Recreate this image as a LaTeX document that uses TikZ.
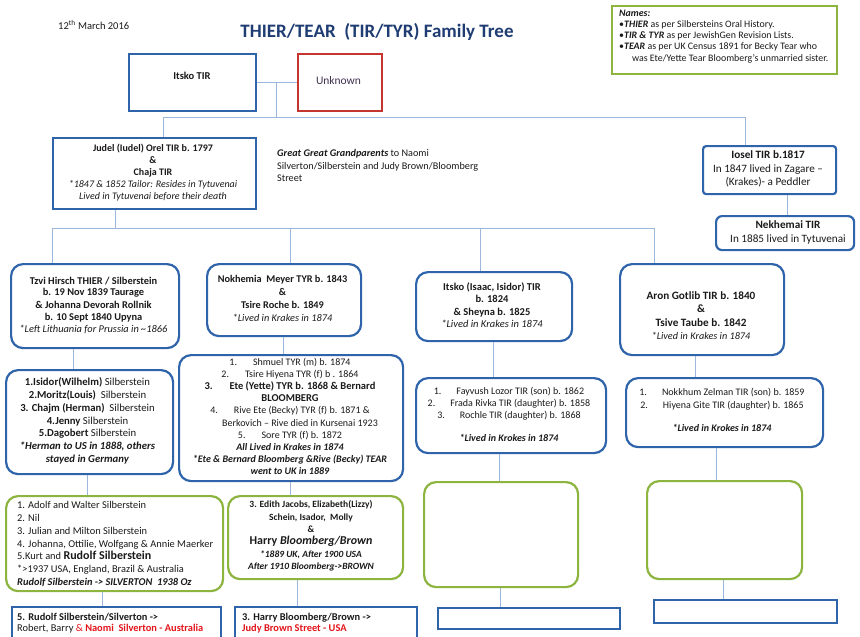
\documentclass[tikz,border=0pt]{standalone}
\usepackage{fontspec}
\setmainfont{Carlito}
\usetikzlibrary{calc}
\definecolor{bbox}{HTML}{2F64AB}
\definecolor{connc}{HTML}{9BB8DC}
\definecolor{gbox}{HTML}{8CB43F}
\definecolor{rbox}{HTML}{C4362F}
\definecolor{titlec}{HTML}{1F3D73}
\definecolor{redtxt}{HTML}{E3141B}
\definecolor{txtc}{HTML}{1A1A1A}
\definecolor{unkc}{HTML}{3F3151}
\newcommand\fs[2]{\fontsize{#1}{#2}\selectfont}
\newcommand\bi[1]{\textbf{\textit{#1}}}
\begin{document}
\begin{tikzpicture}[x=1pt,y=-1pt,
  sqbox/.style={draw=bbox, line width=2.2pt, anchor=north west, inner sep=0pt},
  rbx/.style={sqbox, rounded corners=12pt},
  gbx/.style={draw=gbox, line width=2.2pt, rounded corners=12pt, anchor=north west, inner sep=0pt},
  ln/.style={draw=connc, line width=0.9pt},
  tx/.style={inner sep=0pt, align=center, anchor=north, text=txtc},
  tl/.style={inner sep=0pt, align=left, anchor=north west, text=txtc}]
\useasboundingbox[fill=white] (0,0) rectangle (860,637);
% ---------- boxes ----------
\node[sqbox, minimum width=127pt, minimum height=57pt] (itsko) at (128,53) {};
\node[sqbox, draw=rbox, minimum width=84pt, minimum height=57pt] (unknown) at (297,53) {};
\node[sqbox, draw=gbox, minimum width=225pt, minimum height=68pt] (notes) at (611,5) {};
\node[sqbox, minimum width=203pt, minimum height=71pt] (judel) at (52,137) {};
\node[sqbox, rounded corners=3pt, minimum width=133pt, minimum height=48pt] (iosel) at (702,145) {};
\node[sqbox, rounded corners=6pt, minimum width=138pt, minimum height=34pt] (nekh) at (715,215) {};
\node[rbx, minimum width=168pt, minimum height=84pt] (tzvi) at (10,263) {};
\node[rbx, minimum width=154pt, minimum height=72pt] (nokh) at (206,263) {};
\node[rbx, minimum width=156pt, minimum height=69pt] (isaac) at (415,271) {};
\node[rbx, minimum width=164pt, minimum height=91pt] (aron) at (619,263) {};
\node[rbx, minimum width=167pt, minimum height=104pt] (isidor) at (5,369) {};
\node[rbx, minimum width=224pt, minimum height=126pt] (shmuel) at (178,354) {};
\node[rbx, minimum width=190pt, minimum height=75pt] (fayv) at (415,377) {};
\node[rbx, minimum width=197pt, minimum height=69pt] (nokk) at (625,377) {};
\node[gbx, minimum width=217pt, minimum height=95pt] (adolf) at (5,495) {};
\node[gbx, minimum width=175pt, minimum height=83pt] (edith) at (227,495) {};
\node[gbx, minimum width=154pt, minimum height=105pt] (gthree) at (423,481) {};
\node[gbx, minimum width=155pt, minimum height=98pt] (gfour) at (646,480) {};
\node[sqbox, minimum width=209pt, minimum height=40pt] (rudolf) at (11,606) {};
\node[sqbox, minimum width=182pt, minimum height=40pt] (harry) at (234,606) {};
\node[sqbox, minimum width=182pt, minimum height=21pt] (bthree) at (437,607) {};
\node[sqbox, minimum width=183pt, minimum height=23pt] (bfour) at (653,599) {};
% ---------- connectors ----------
\coordinate (j1) at (276,117);
\coordinate (b1a) at (163,117);
\coordinate (b1b) at (745,117);
\draw[ln] (itsko.east) -- (unknown.west);
\draw[ln] (j1 |- itsko.east) -- (j1);
\draw[ln] (b1a |- judel.north) -- (b1a) -- (b1b) -- (b1b |- iosel.north);
\coordinate (nk) at (787,0);
\draw[ln] (nk |- iosel.south) -- (nk |- nekh.north);
\coordinate (b2j) at (115,228);
\coordinate (b2a) at (52,228);
\coordinate (b2b) at (290,228);
\coordinate (b2c) at (480,228);
\coordinate (b2d) at (654,228);
\draw[ln] (b2j |- judel.south) -- (b2j);
\draw[ln] (b2a |- tzvi.north) -- (b2a) -- (b2d) -- (b2d |- aron.north);
\draw[ln] (b2b) -- (b2b |- nokh.north);
\draw[ln] (b2c) -- (b2c |- isaac.north);
\coordinate (c1) at (73,0);
\coordinate (c2) at (283,0);
\coordinate (c3) at (493,0);
\coordinate (c4) at (695,0);
\draw[ln] (c1 |- tzvi.south) -- (c1 |- isidor.north);
\draw[ln] (c2 |- nokh.south) -- (c2 |- shmuel.north);
\draw[ln] (c3 |- isaac.south) -- (c3 |- fayv.north);
\draw[ln] (c4 |- aron.south) -- (c4 |- nokk.north);
\coordinate (d1) at (87,0);
\coordinate (d2) at (290,0);
\coordinate (d3) at (499,0);
\coordinate (d4) at (716,0);
\draw[ln] (d1 |- isidor.south) -- (d1 |- adolf.north);
\draw[ln] (d2 |- shmuel.south) -- (d2 |- edith.north);
\draw[ln] (d3 |- fayv.south) -- (d3 |- gthree.north);
\draw[ln] (d4 |- nokk.south) -- (d4 |- gfour.north);
\coordinate (e1) at (102,0);
\coordinate (e2) at (297,0);
\coordinate (e3) at (500,0);
\coordinate (e4) at (723,0);
\draw[ln] (e1 |- adolf.south) -- (e1 |- rudolf.north);
\draw[ln] (e2 |- edith.south) -- (e2 |- harry.north);
\draw[ln] (e3 |- gthree.south) -- (e3 |- bthree.north);
\draw[ln] (e4 |- gfour.south) -- (e4 |- bfour.north);
% ---------- texts ----------
\node[tl, anchor=west, font=\fs{10.5}{12}] (date) at (58,25) {12\textsuperscript{th} March 2016};
\node[inner sep=0pt, text=titlec, font=\fs{19}{21}\bfseries] (title) at (377,32) {THIER/TEAR\ \ (TIR/TYR) Family Tree};
\node[tl, font=\fs{9.9}{11.25}] (notesT) at (619,9.5) {\bi{Names:}\\
  •\bi{THIER} as per Silbersteins Oral History.\\
  •\bi{TIR \& TYR} as per JewishGen Revision Lists.\\
  •\bi{TEAR} as per UK Census 1891 for Becky Tear who\\
  \hspace*{1.3em}was Ete/Yette Tear Bloomberg's unmarried sister.};
\node[tx, font=\fs{10.5}{12}\bfseries] (itskoT) at (192,72) {Itsko TIR};
\node[tx, text=unkc, font=\fs{11.5}{13}] (unknownT) at (338.5,76.5) {Unknown};
\node[tx, font=\fs{10}{12}] (judelT) at (153,143.5) {\textbf{Judel (Iudel) Orel TIR b. 1797}\\ \textbf{\&}\\ \textbf{Chaja TIR}\\
  \textit{*1847 \& 1852 Tailor: Resides in Tytuvenai}\\ \textit{Lived in Tytuvenai before their death}};
\node[tl, font=\fs{10.2}{12.5}] (ggT) at (277,149.5) {\bi{Great Great Grandparents} to Naomi\\ Silverton/Silberstein and Judy Brown/Bloomberg\\ Street};
\node[tx, font=\fs{11.2}{13.5}] (ioselT) at (768,150.5) {\textbf{Iosel TIR b.1817}\\ In 1847 lived in Zagare –\\ (Krakes)- a Peddler};
\node[tx, font=\fs{11.2}{14}] (nekhT) at (788,220.5) {\textbf{Nekhemai TIR}\\ In 1885 lived in Tytuvenai};
\node[tx, font=\fs{10.4}{12}] (tzviT) at (93.5,276.5) {\textbf{Tzvi Hirsch THIER / Silberstein}\\ \textbf{b. 19 Nov 1839 Taurage}\\
  \textbf{\& Johanna Devorah Rollnik}\\ \textbf{b. 10 Sept 1840 Upyna}\\ \textit{*Left Lithuania for Prussia in \textasciitilde1866}};
\node[tx, font=\fs{10.3}{12.7}] (nokhT) at (282.5,275.5) {\textbf{Nokhemia\ \ Meyer TYR b. 1843}\\ \textbf{\&}\\ \textbf{Tsire Roche b. 1849}\\ \textit{*Lived in Krakes in 1874}};
\node[tx, font=\fs{10.5}{12.3}] (isaacT) at (492,282.5) {\textbf{Itsko (Isaac, Isidor) TIR}\\ \textbf{b. 1824}\\ \textbf{\& Sheyna b. 1825}\\ \textit{*Lived in Krakes in 1874}};
\node[tx, font=\fs{11.2}{13.3}] (aronT) at (701,291.5) {\textbf{Aron Gotlib TIR b. 1840}\\ \textbf{\&}\\ \textbf{Tsive Taube b. 1842}\\ {\fs{10.2}{13.3}\textit{*Lived in Krakes in 1874}}};
\node[tx, font=\fs{10.7}{12.8}] (isidorT) at (87.5,377.5) {\textbf{1.Isidor(Wilhelm)} Silberstein\\ \textbf{2.Moritz(Louis)}\ \ Silberstein\\
  \textbf{3. Chajm (Herman)}\ \ Silberstein\\ \textbf{4.Jenny} Silberstein\\ \textbf{5.Dagobert} Silberstein\\
  \bi{*Herman to US in 1888, others}\\ \bi{stayed in Germany}};
\node[tx, font=\fs{10}{12.2}] (shmuelT) at (290,357.5) {1.\hspace{1.6em}Shmuel TYR (m) b. 1874\\
  2.\hspace{1.6em}Tsire Hiyena TYR (f) b . 1864\\
  {\fs{10.5}{12.2}\bfseries 3.\hspace{1.6em}Ete (Yette) TYR b. 1868 \& Bernard}\\
  {\fs{10.5}{12.2}\bfseries BLOOMBERG}\\
  4.\hspace{1.6em}Rive Ete (Becky) TYR (f) b. 1871 \&\\
  \hspace*{2em}Berkovich – Rive died in Kursenai 1923\\
  5.\hspace{1.6em}Sore TYR (f) b. 1872\\
  \bi{All Lived in Krakes in 1874}\\
  \bi{*Ete \& Bernard Bloomberg \&Rive (Becky) TEAR}\\
  \bi{went to UK in 1889}};
\node[tx, font=\fs{10}{12}] (fayvT) at (509,386.5) {1.\hspace{1.5em}Fayvush Lozor TIR (son) b. 1862\\
  2.\hspace{1.5em}Frada Rivka TIR (daughter) b. 1858\\
  3.\hspace{1.5em}Rochle TIR (daughter) b. 1868\\[11pt]
  \bi{*Lived in Krokes in 1874}};
\node[tx, font=\fs{10}{13}] (nokkT) at (722,387.5) {1.\hspace{1.5em}Nokkhum Zelman TIR (son) b. 1859\\
  2.\hspace{1.5em}Hiyena Gite TIR (daughter) b. 1865\\[10pt]
  \bi{*Lived in Krokes in 1874}};
\node[tl, font=\fs{10.4}{12.7}] (adolfT) at (17,501.5) {1. Adolf and Walter Silberstein\\ 2. Nil\\
  3. Julian and Milton Silberstein\\ 4. Johanna, Ottilie, Wolfgang \& Annie Maerker\\
  5.Kurt and {\fs{12}{12.7}\bfseries Rudolf Silberstein}\\
  *>1937 USA, England, Brazil \& Australia\\
  \bi{Rudolf Silberstein -> SILVERTON\ \ 1938 Oz}};
\node[tx, font=\fs{9.5}{12.4}] (edithT) at (311,500.5) {\textbf{3. Edith Jacobs, Elizabeth(Lizzy)}\\
  \textbf{Schein, Isador,\ \ Molly}\\ \textbf{\&}\\
  {\fs{12}{12.4}\bfseries Harry \textit{Bloomberg/Brown}}\\
  \bi{*1889 UK, After 1900 USA}\\ \bi{After 1910 Bloomberg->BROWN}};
\node[tl, font=\fs{10.4}{11}] (rudolfT) at (17,612.5) {\textbf{5. Rudolf Silberstein/Silverton ->}\\
  Robert, Barry {\color{redtxt}\& \textbf{Naomi\ \ Silverton - Australia}}};
\node[tl, font=\fs{10.4}{11}] (harryT) at (242,612.5) {\textbf{3. Harry Bloomberg/Brown ->}\\
  {\color{redtxt}\textbf{Judy Brown Street - USA}}};
\end{tikzpicture}
\end{document}
